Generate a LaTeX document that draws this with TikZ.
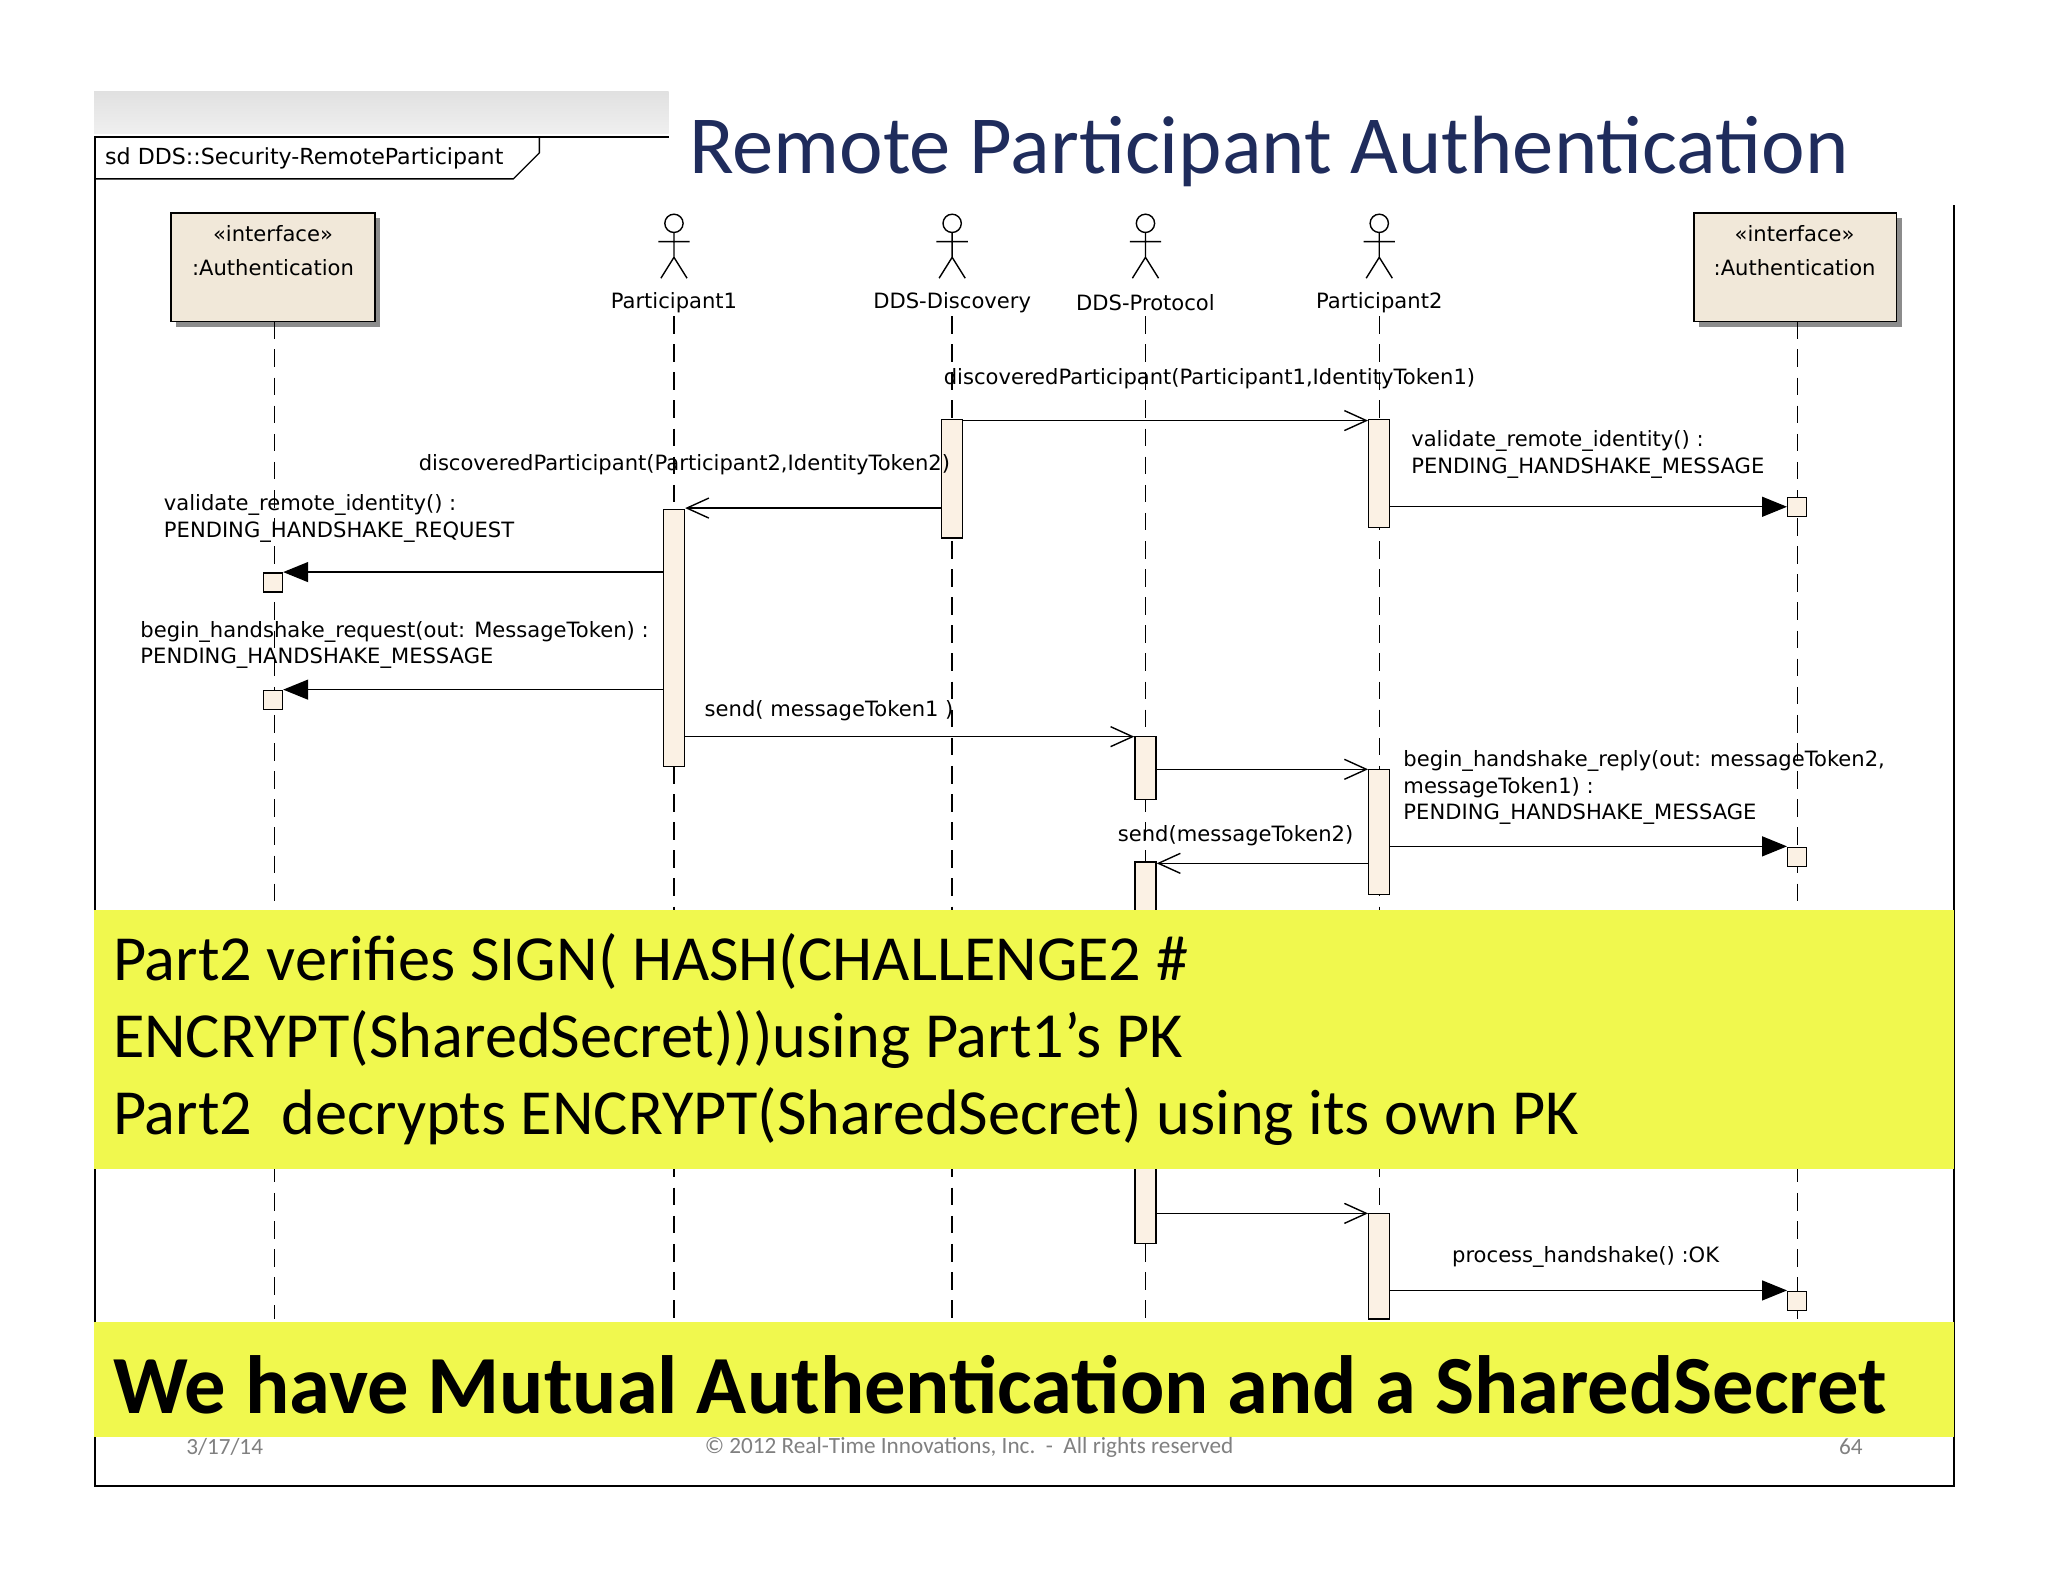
\documentclass[tikz,border=0pt]{standalone}
\usepackage{fontspec}
\setmainfont{Carlito}
\newfontfamily\uml{DejaVu Sans}
\usetikzlibrary{arrows.meta,calc,positioning}
\definecolor{slidenavy}{HTML}{1F2C5C}
\definecolor{hilite}{HTML}{F0F84E}
\definecolor{actfill}{HTML}{FBF1E4}
\definecolor{ifill}{HTML}{F1E8D9}

\newcommand{\actbar}[4]{\node[act,minimum height={(#4-#3)*0.1306mm}] (#1) at (#2,{(#3+#4)/2}) {};}
\newcommand{\stick}[2]{%
  \draw[thin] (#2,171) circle (7);
  \draw[thin] (#2,178) -- (#2,197) (#2-12,185) -- (#2+12,185)
              (#2-10,213) -- (#2,197) -- (#2+10,213);
  \node[lbl] (#1) at (#2,232) {\strut};}

\begin{document}
\begin{tikzpicture}[
    x=0.01306cm, y=-0.01306cm,
    lbl/.style={font=\uml\fontsize{6}{7.5}\selectfont,inner sep=0pt},
    act/.style={draw,fill=actfill,minimum width=2.1mm,inner sep=0pt},
    stub/.style={draw,fill=actfill,minimum size=1.9mm,inner sep=0pt},
    iface/.style={draw,fill=ifill,align=center,font=\uml\fontsize{6}{9}\selectfont},
    life/.style={dash pattern=on 5pt off 3pt,thin},
    call/.style={thin,-{Straight Barb[length=2.2mm,width=2mm]}},
    sig/.style={thin,-{Triangle[length=2.5mm,width=2mm]}},
    band/.style={fill=hilite,draw=none},
    foot/.style={text=black!50,font=\fontsize{6.6}{8}\selectfont,inner sep=0pt}
]
\useasboundingbox (0,0) rectangle (1568,1211);

% --- Frame ---
\shade[top color=black!12,bottom color=black!6] (72,70) rectangle (512,102);
\draw[semithick] (512,105) -- (73,105) -- (73,1138) -- (1496,1138) -- (1496,157);
\draw[thin] (73,137) -- (393,137) -- (413,117) -- (413,105);
\node[lbl,anchor=west] (sd) at (80,121) {\fontsize{6.3}{8}\selectfont sd DDS::Security-RemoteParticipant};

\node[font=\fontsize{23.5}{28}\selectfont,text=slidenavy,anchor=west,inner sep=0pt] (title) at (527,116) {Remote Participant Authentication};

% --- Lifeline heads ---
\fill[black!45] (135,167) rectangle (291,250);
\node[iface,minimum width=156*0.1306mm,minimum height=83*0.1306mm] (authL) at (209,204.5) {};
\node[lbl] at (209,179) {«interface»};
\node[lbl] at (209,205) {:Authentication};
\fill[black!45] (1301,167) rectangle (1456,250);
\node[iface,minimum width=155*0.1306mm,minimum height=83*0.1306mm] (authR) at (1374.5,204.5) {};
\node[lbl] at (1374,179) {«interface»};
\node[lbl] at (1374,205) {:Authentication};

\stick{p1}{516}
\stick{disc}{729}
\stick{prot}{877}
\stick{p2}{1056}
\node[lbl] at (p1) {Participant1};
\node[lbl] at (disc) {DDS-Discovery};
\node[lbl] at (prot) {DDS-Protocol};
\node[lbl] at (p2) {Participant2};

% --- Lifelines ---
\foreach \lx/\ly in {210/246,516/242,729/242,877/242,1056/242,1376/246}
  \draw[life] (\lx,\ly) -- (\lx,1010);

% --- Activations ---
\actbar{aDisc}{729}{321}{412}
\actbar{aP2a}{1056}{321}{404}
\actbar{aP1}{516}{390}{587}
\actbar{aProtA}{877}{564}{612}
\actbar{aP2b}{1056}{589}{685}
\actbar{aProtB}{877}{660}{720}
\actbar{aProtC}{877}{880}{952}
\actbar{aP2c}{1056}{929}{1010}
\node[stub] (sL1) at (209,446) {};
\node[stub] (sL2) at (209,536) {};
\node[stub] (sR1) at (1376,388) {};
\node[stub] (sR2) at (1376,656) {};
\node[stub] (sR3) at (1376,996) {};

% --- Messages ---
\draw[call] (aDisc.east |- 0,322) -- (aP2a.west |- 0,322);
\node[lbl] (m1) at (926,290) {discoveredParticipant(Participant1,IdentityToken1)};
\draw[call] (aDisc.west |- 0,389) -- (aP1.east |- 0,389);
\node[lbl] (m2) at (524,356) {discoveredParticipant(Participant2,IdentityToken2)};
\draw[sig] (aP2a.east |- sR1) -- (sR1.west);
\node[lbl,anchor=west,align=left] (vR) at (1080,348) {validate\_remote\_identity() :\\PENDING\_HANDSHAKE\_MESSAGE};
\draw[sig] (aP1.west |- 0,438) -- (sL1.east |- 0,438);
\node[lbl,anchor=west,align=left] (vL) at (125,397) {validate\_remote\_identity() :\\PENDING\_HANDSHAKE\_REQUEST};
\draw[sig] (aP1.west |- 0,528) -- (sL2.east |- 0,528);
\node[lbl,anchor=west,align=left] (bL) at (107,494) {begin\_handshake\_request(out: MessageToken) :\\PENDING\_HANDSHAKE\_MESSAGE};
\draw[call] (aP1.east |- 0,564) -- (aProtA.west |- 0,564);
\node[lbl,anchor=west] (s1) at (539,544) {send( messageToken1 )};
\draw[call] (aProtA.east |- 0,589) -- (aP2b.west |- 0,589);
\draw[sig] (aP2b.east |- 0,648) -- (sR2.west |- 0,648);
\node[lbl,anchor=west,align=left] (bR) at (1074,603) {begin\_handshake\_reply(out: messageToken2,\\messageToken1) :\\PENDING\_HANDSHAKE\_MESSAGE};
\draw[call] (aP2b.west |- 0,661) -- (aProtB.east |- 0,661);
\node[lbl] (s2) at (946,640) {send(messageToken2)};
\draw[call] (aProtC.east |- 0,929) -- (aP2c.west |- 0,929);
\draw[sig] (aP2c.east |- 0,988) -- (sR3.west |- 0,988);
\node[lbl] (ph) at (1214,962) {process\_handshake() :OK};

% --- Highlight bands ---
\fill[band] (72,697) rectangle (1496,895);
\node[anchor=west,align=left,inner sep=0pt,font=\fontsize{18.3}{22}\selectfont] (note) at (86,796)
  {Part2 verifies SIGN( HASH(CHALLENGE2 \#\\ENCRYPT(SharedSecret)))using Part1’s PK\\Part2~~decrypts ENCRYPT(SharedSecret) using its own PK};
\fill[band] (72,1012) rectangle (1496,1100);
\node[anchor=west,inner sep=0pt,font=\bfseries\fontsize{23.5}{28}\selectfont] (concl) at (86,1060)
  {We have Mutual Authentication and a SharedSecret};

% --- Footer ---
\node[foot] (date) at (172,1108) {3/17/14};
\node[foot] (copy) at (742,1108) {© 2012 Real-Time Innovations, Inc.~~-~~All rights reserved};
\node[foot] (page) at (1417,1108) {64};
\end{tikzpicture}
\end{document}
